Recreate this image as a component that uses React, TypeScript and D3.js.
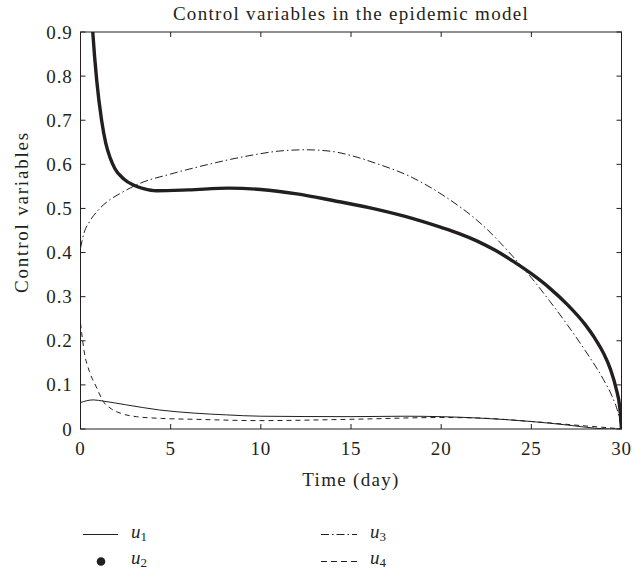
import React from "react";
import * as d3 from "d3";

const xTicks = [0, 5, 10, 15, 20, 25, 30];
const yTicks = [0, 0.1, 0.2, 0.3, 0.4, 0.5, 0.6, 0.7, 0.8, 0.9];

const u1T = [0, 0.7, 1.3, 2.5, 4.4, 6.3, 8.1, 10, 15, 18, 20, 22, 25, 27, 28.5, 29.3, 30];
const u1V = [0.06, 0.066, 0.063, 0.055, 0.043, 0.036, 0.032, 0.029, 0.028, 0.029, 0.028, 0.025, 0.017, 0.009, 0.002, 0.0, 0.0];

const u2T = [0, 0.3, 0.5, 0.68, 0.9, 1.17, 1.4, 1.65, 1.91, 2.4, 2.93, 3.5, 4.2, 6, 8.2, 10, 12, 14, 16, 18, 20, 21, 22, 23, 24, 25, 26, 27, 28, 28.5, 29, 29.4, 29.7, 29.9, 30];
const u2V = [1.4, 1.2, 1.03, 0.9, 0.79, 0.7, 0.648, 0.614, 0.59, 0.567, 0.553, 0.545, 0.54, 0.542, 0.546, 0.543, 0.533, 0.518, 0.502, 0.482, 0.457, 0.443, 0.426, 0.405, 0.38, 0.352, 0.32, 0.282, 0.236, 0.207, 0.172, 0.134, 0.092, 0.05, 0.0];

const u3T = [0, 0.2, 0.5, 1, 1.6, 2.2, 3.3, 5, 6.6, 9.4, 11, 12.5, 14, 15, 16.4, 18.3, 20.1, 22.3, 24, 25, 26, 27, 28, 29, 29.5, 29.8, 30];
const u3V = [0.41, 0.445, 0.47, 0.497, 0.519, 0.534, 0.557, 0.578, 0.595, 0.62, 0.63, 0.633, 0.629, 0.62, 0.602, 0.572, 0.53, 0.462, 0.39, 0.343, 0.291, 0.236, 0.177, 0.112, 0.072, 0.038, 0.0];

const u4T = [0, 0.22, 0.5, 0.87, 1.27, 1.7, 2.2, 3.1, 4.5, 6.3, 10, 15, 20, 22, 25, 28, 29.5, 30];
const u4V = [0.24, 0.172, 0.13, 0.096, 0.062, 0.046, 0.036, 0.028, 0.024, 0.022, 0.019, 0.022, 0.026, 0.025, 0.017, 0.007, 0.002, 0.0];

const legendLabels = ["1", "2", "3", "4"];

const INK = "#231f20";
const FONT = "'Liberation Serif', 'Times New Roman', serif";

export default function App() {
  const left = 80.5, right = 621.5, top = 32, bottom = 429;
  const x = d3.scaleLinear().domain([0, 30]).range([left, right]);
  const y = d3.scaleLinear().domain([0, 0.9]).range([bottom, top]);
  const line = d3
    .line<[number, number]>()
    .x((d) => x(d[0]))
    .y((d) => y(d[1]))
    .curve(d3.curveMonotoneX);
  const pts = (t: number[], v: number[]) => t.map((tt, i) => [tt, v[i]] as [number, number]);
  const tick = 5;
  const dashDot = "8,3,1.5,3";

  return (
    <svg width={632} height={573} style={{ position: "absolute", left: 0, top: 0 }} fontFamily={FONT}>
      <rect width={632} height={573} fill="#fff" />
      <defs>
        <clipPath id="plotclip">
          <rect x={left} y={top} width={right - left} height={bottom - top} />
        </clipPath>
      </defs>
      <text x={(left + right) / 2} y={20} textAnchor="middle" fontSize={19} letterSpacing={1.3} fill={INK}>
        Control variables in the epidemic model
      </text>
      {xTicks.map((t) => (
        <g key={"x" + t}>
          <line x1={x(t)} x2={x(t)} y1={bottom} y2={bottom - tick} stroke={INK} strokeWidth={1} />
          <line x1={x(t)} x2={x(t)} y1={top} y2={top + tick} stroke={INK} strokeWidth={1} />
          <text x={x(t)} y={bottom + 26} textAnchor="middle" fontSize={19} letterSpacing={0.8} fill={INK}>
            {t}
          </text>
        </g>
      ))}
      {yTicks.map((v) => (
        <g key={"y" + v}>
          <line x1={left} x2={left + tick} y1={y(v)} y2={y(v)} stroke={INK} strokeWidth={1} />
          <line x1={right} x2={right - tick} y1={y(v)} y2={y(v)} stroke={INK} strokeWidth={1} />
          <text x={left - 8} y={y(v) + 6.5} textAnchor="end" fontSize={19} letterSpacing={0.8} fill={INK}>
            {v === 0 ? "0" : d3.format(".1f")(v)}
          </text>
        </g>
      ))}
      <g clipPath="url(#plotclip)" fill="none">
        <path d={line(pts(u1T, u1V)) || ""} stroke={INK} strokeWidth={1} />
        <path d={line(pts(u4T, u4V)) || ""} stroke={INK} strokeWidth={1} strokeDasharray="5,4" />
        <path d={line(pts(u3T, u3V)) || ""} stroke={INK} strokeWidth={1} strokeDasharray={dashDot} />
        <path d={line(pts(u2T, u2V)) || ""} stroke={INK} strokeWidth={3.4} />
      </g>
      <rect x={left} y={top} width={right - left} height={bottom - top} fill="none" stroke={INK} strokeWidth={1} />
      <text x={(left + right) / 2} y={486} textAnchor="middle" fontSize={19} letterSpacing={1.3} fill={INK}>
        Time (day)
      </text>
      <text
        transform={`translate(28,212) rotate(-90)`}
        textAnchor="middle"
        fontSize={19}
        letterSpacing={1.8}
        fill={INK}
      >
        Control variables
      </text>
      <g fontSize={19} fill={INK}>
        <line x1={83} x2={118} y1={534.5} y2={534.5} stroke={INK} strokeWidth={1} />
        <text x={131} y={538} fontStyle="italic">
          u<tspan fontSize={13} dy={3} fontStyle="normal">{legendLabels[0]}</tspan>
        </text>
        <circle cx={101} cy={561.5} r={4.3} fill={INK} />
        <text x={131} y={564} fontStyle="italic">
          u<tspan fontSize={13} dy={2.5} fontStyle="normal">{legendLabels[1]}</tspan>
        </text>
        <line x1={321} x2={357} y1={534.5} y2={534.5} stroke={INK} strokeWidth={1} strokeDasharray={dashDot} />
        <text x={370} y={538} fontStyle="italic">
          u<tspan fontSize={13} dy={3} fontStyle="normal">{legendLabels[2]}</tspan>
        </text>
        <line x1={321} x2={357} y1={561.5} y2={561.5} stroke={INK} strokeWidth={1} strokeDasharray="6,4" />
        <text x={370} y={564} fontStyle="italic">
          u<tspan fontSize={13} dy={2.5} fontStyle="normal">{legendLabels[3]}</tspan>
        </text>
      </g>
    </svg>
  );
}
